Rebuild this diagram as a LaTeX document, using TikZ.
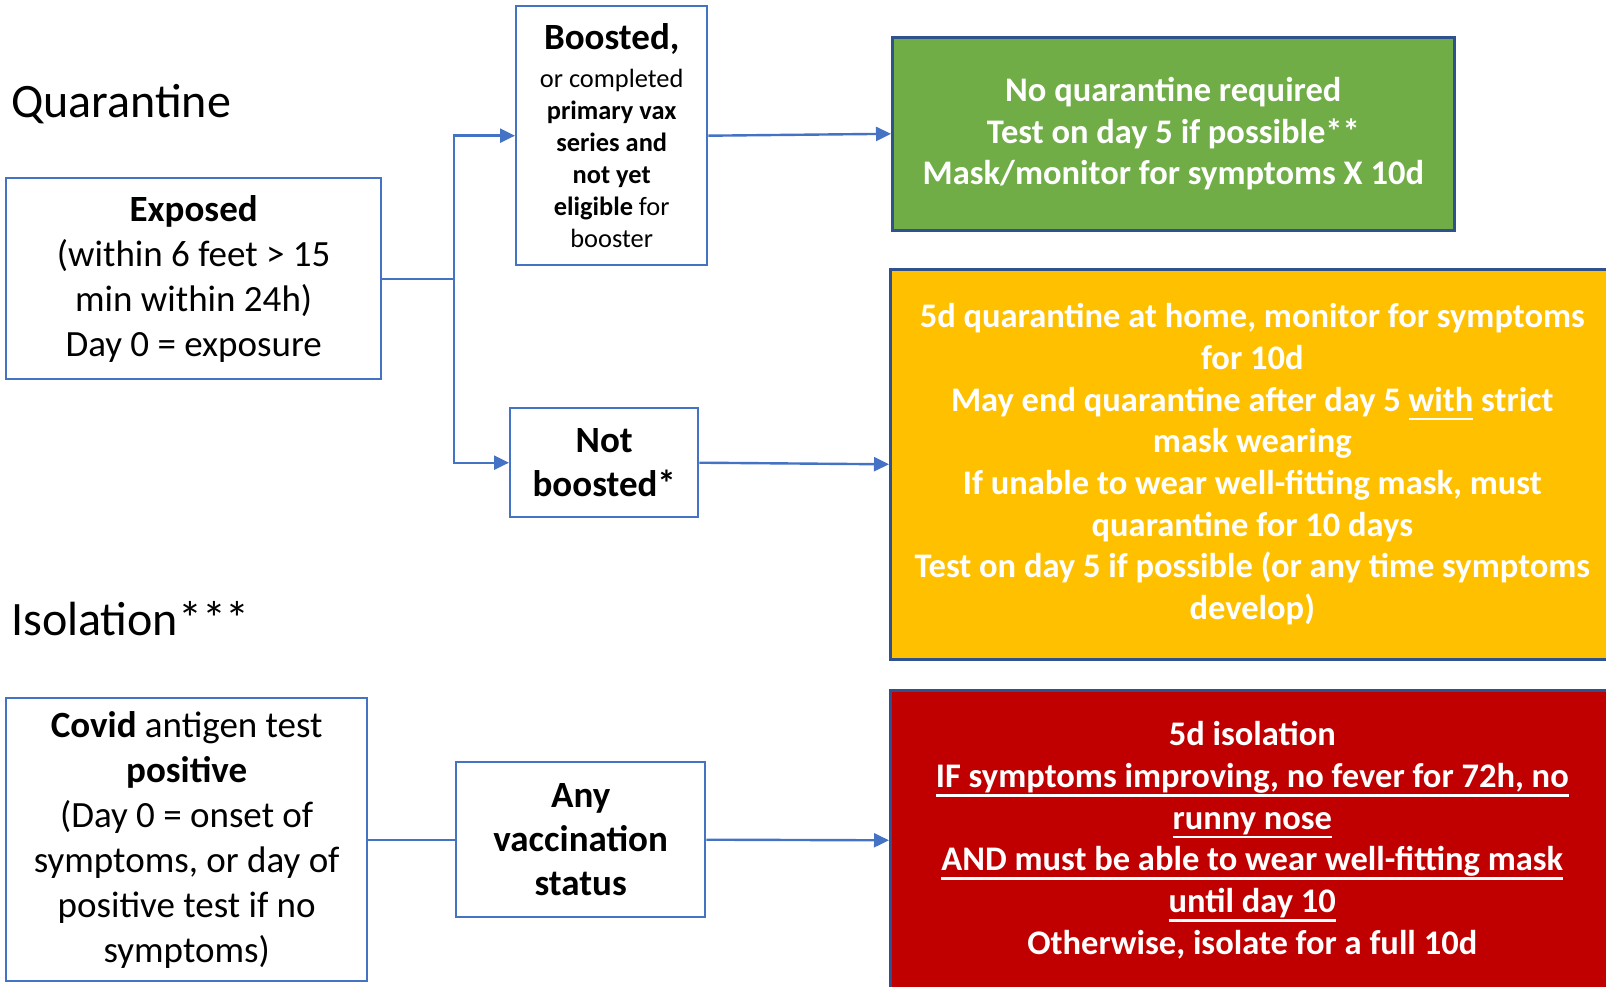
\documentclass[tikz,border=0pt]{standalone}
\usepackage{fontspec}
\setmainfont{Carlito}
\usetikzlibrary{arrows.meta}
\definecolor{obl}{HTML}{4472C4}
\definecolor{dbl}{HTML}{2F528F}
\definecolor{ogreen}{HTML}{70AD47}
\definecolor{oorange}{HTML}{FFC000}
\definecolor{ored}{HTML}{C00000}
\newsavebox\myulbox
\newcommand\myul[1]{\sbox\myulbox{#1}\rlap{\rule[-9pt]{\wd\myulbox}{2.5pt}}\usebox\myulbox}
\begin{document}
\begin{tikzpicture}[x=1pt,y=-1pt,
  wbox/.style={draw=obl,line width=2.4pt,fill=white,align=center,inner sep=0pt,anchor=north west},
  cbox/.style={draw=dbl,line width=2.6pt,align=center,inner sep=0pt,text=white,
    font=\fontsize{34.5}{41.7}\selectfont\bfseries,anchor=north west},
  conn/.style={draw=obl,line width=2.4pt},
  arr/.style={conn,-{Triangle[length=15pt,width=14pt]}},
  bigtxt/.style={font=\fontsize{37}{45}\selectfont},
  bigbold/.style={font=\fontsize{37}{44}\selectfont\bfseries},
  smalltxt/.style={font=\fontsize{26.4}{32}\selectfont},
  title/.style={font=\fontsize{48}{58}\selectfont,inner sep=0pt,anchor=base west},
]
\useasboundingbox (0,0) rectangle (1606,987);

\node[title] (tq) at (11,118) {Quarantine};
\node[title] (ti) at (11,635) {Isolation***};

\node[wbox,bigtxt,minimum width=375pt,minimum height=201pt] (exp) at (5,177)
  {\textbf{Exposed}\\(within 6 feet > 15\\min within 24h)\\Day 0 = exposure};
\node[wbox,smalltxt,minimum width=191pt,minimum height=259pt] (boost) at (515,5)
  {{\fontsize{37}{37}\selectfont\bfseries Boosted,}\\[6pt]or completed\\\textbf{primary vax}\\\textbf{series and}\\\textbf{not yet}\\\textbf{eligible} for\\booster};
\node[wbox,bigbold,minimum width=188pt,minimum height=109pt] (notb) at (509,407)
  {Not\\boosted*};

\node[cbox,fill=ogreen,minimum width=562pt,minimum height=193pt] (green) at (891,36)
  {No quarantine required\\Test on day 5 if possible**\\Mask/monitor for symptoms X 10d};
\node[cbox,fill=oorange,minimum width=724pt,minimum height=390pt] (orange) at (889,268)
  {5d quarantine at home, monitor for symptoms\\for 10d\\May end quarantine after day 5 \myul{with} strict\\mask wearing\\If unable to wear well-fitting mask, must\\quarantine for 10 days\\Test on day 5 if possible (or any time symptoms\\develop)};

\node[wbox,bigtxt,minimum width=361pt,minimum height=283pt] (covid) at (5,697)
  {\textbf{Covid} antigen test\\\textbf{positive}\\(Day 0 = onset of\\symptoms, or day of\\positive test if no\\symptoms)};
\node[wbox,bigbold,minimum width=249pt,minimum height=155pt] (any) at (455,761)
  {Any\\vaccination\\status};
\node[cbox,fill=ored,minimum width=724pt,minimum height=300pt] (red) at (889,689)
  {5d isolation\\\myul{IF symptoms improving, no fever for 72h, no}\\\myul{runny nose}\\\myul{AND must be able to wear well-fitting mask}\\\myul{until day 10}\\Otherwise, isolate for a full 10d};

\coordinate (jx) at (454,0);
\coordinate (j) at (exp.east -| jx);
\draw[conn] (exp.east) -- (j);
\draw[arr] (j) |- (boost.west);
\draw[arr] (j) |- (notb.west);
\draw[arr] (boost.east) -- (green.west);
\draw[arr] (notb.east) -- (orange.west);
\draw[conn] (covid.east) -- (any.west);
\draw[arr] (any.east) -- (red.west);
\end{tikzpicture}
\end{document}
